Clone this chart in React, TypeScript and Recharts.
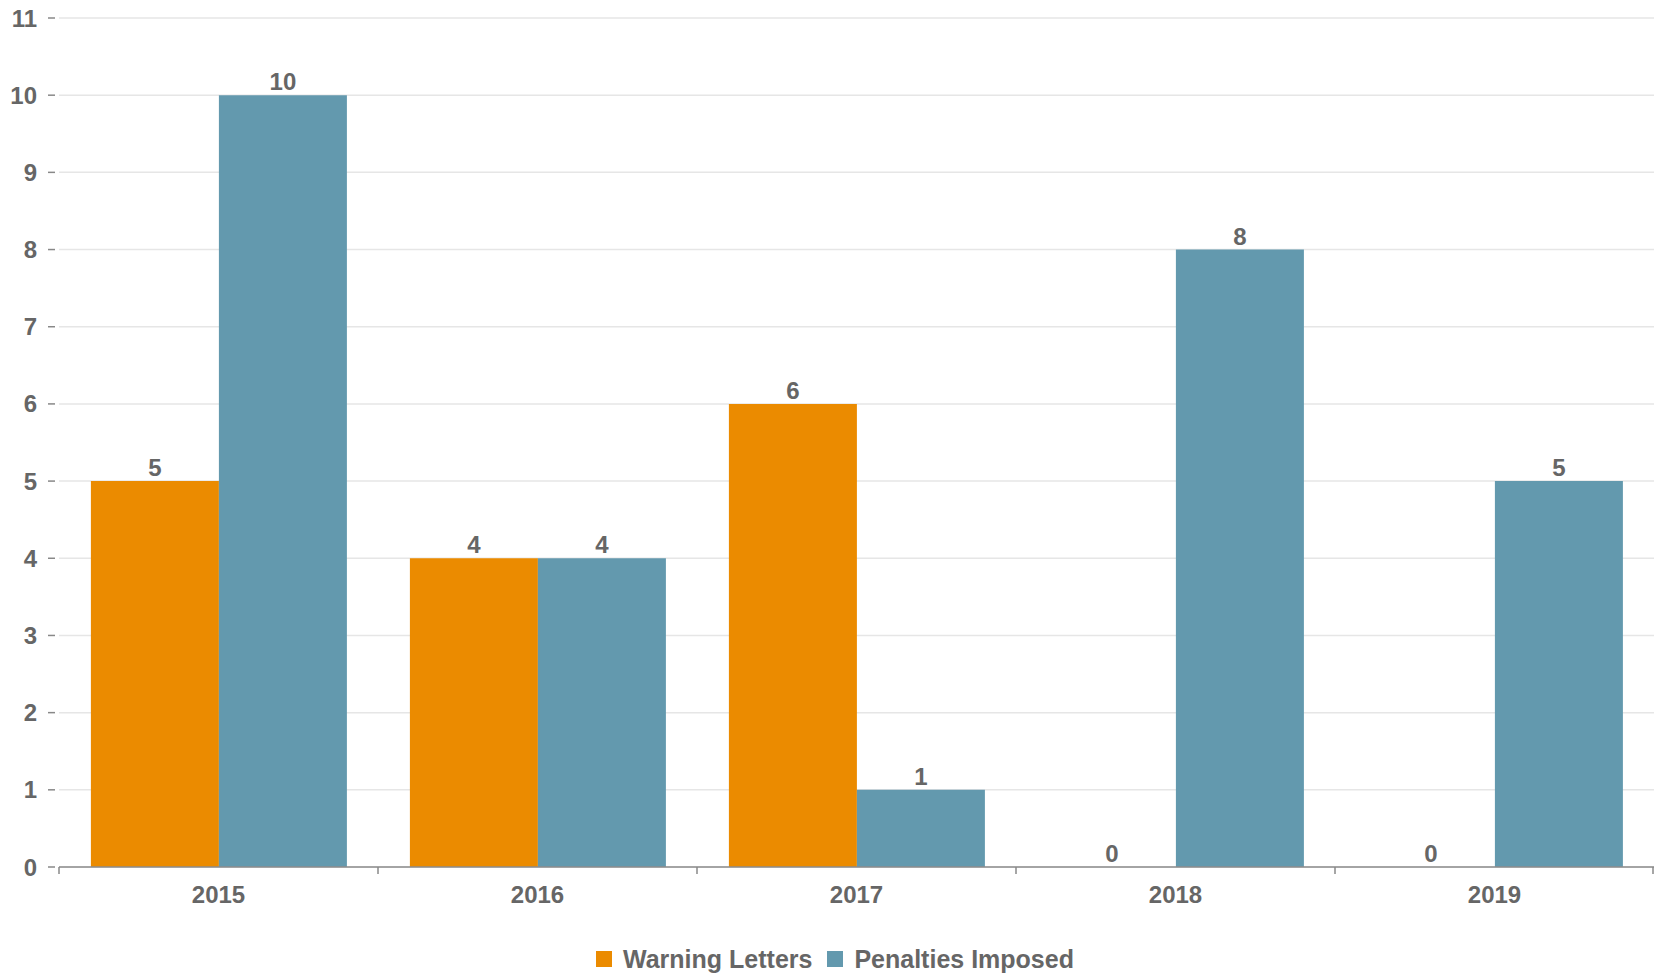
import React from "react";
import { Bar, BarChart, CartesianGrid, LabelList, Legend, XAxis, YAxis } from "recharts";

const years = ["2015", "2016", "2017", "2018", "2019"];
const warningLetters = [5, 4, 6, 0, 0];
const penaltiesImposed = [10, 4, 1, 8, 5];
const yTicks = [0, 1, 2, 3, 4, 5, 6, 7, 8, 9, 10, 11];

const ORANGE = "#eb8b00";
const BLUE = "#6399ae";
const TEXT = "#666666";
const FONT = "'Liberation Sans', Arial, sans-serif";
const NARROW = "'Liberation Sans Narrow', 'Arial Narrow', 'Liberation Sans', sans-serif";

const data = years.map((year, i) => ({
  year,
  warning: warningLetters[i],
  penalties: penaltiesImposed[i],
}));

// y ticks: short dash left of the plot, value further left
function YTick(props: any) {
  const { x, y, payload } = props;
  return (
    <g>
      <line x1={x - 11} x2={x - 4} y1={y} y2={y} stroke="#888" strokeWidth={1.5} />
      <text x={x - 22} y={y} textAnchor="end" dominantBaseline="central" fill={TEXT} fontSize={24} fontWeight="bold" fontFamily={FONT}>
        {payload.value}
      </text>
    </g>
  );
}

// x ticks: tick marks sit on the category boundaries, label in the middle
function XTick(props: any) {
  const { x, y, payload, index } = props;
  const half = payload.offset || 159.5;
  return (
    <g>
      <line x1={x - half} x2={x - half} y1={y} y2={y + 7} stroke="#888" strokeWidth={1.5} />
      {index === years.length - 1 && (
        <line x1={x + half - 1} x2={x + half - 1} y1={y} y2={y + 7} stroke="#888" strokeWidth={1.5} />
      )}
      <text x={x} y={y + 36} textAnchor="middle" fill={TEXT} fontSize={24} fontWeight="bold" fontFamily={FONT}>
        {payload.value}
      </text>
    </g>
  );
}

function LegendBox() {
  const items = [
    { label: "Warning Letters", color: ORANGE },
    { label: "Penalties Imposed", color: BLUE },
  ];
  return (
    <div style={{ height: 40, paddingTop: 12, paddingLeft: 16, boxSizing: "border-box", display: "flex", justifyContent: "center", fontFamily: FONT }}>
      {items.map((it, i) => (
        <div key={it.label} style={{ display: "flex", alignItems: "center", marginRight: i === 0 ? 15 : 0, lineHeight: "24px" }}>
          <span style={{ width: 16, height: 16, background: it.color, display: "inline-block", marginRight: 11 }} />
          <span style={{ fontSize: 25, fontWeight: "bold", color: TEXT }}>{it.label}</span>
        </div>
      ))}
    </div>
  );
}

// zero bars still need a rect so their "0" label gets drawn
const tinyForZero = (value: any) => (value === 0 ? 0.01 : 0);

export default function App() {
  return (
    <div style={{ position: "fixed", left: 0, top: 0, width: 1654, height: 973, background: "#fff" }}>
      <BarChart
        width={1654}
        height={973}
        data={data}
        margin={{ top: 18, right: 0, left: 0, bottom: 0 }}
        barCategoryGap="10%"
        barGap={0}
      >
        <CartesianGrid vertical={false} stroke="#e6e6e6" strokeWidth={1.5} />
        <YAxis
          width={59}
          domain={[0, 11]}
          ticks={yTicks}
          interval={0}
          axisLine={false}
          tickLine={false}
          tickSize={0}
          tickMargin={0}
          tick={<YTick />}
        />
        <XAxis
          dataKey="year"
          height={66}
          axisLine={{ stroke: "#8c8c8c", strokeWidth: 1.5 }}
          tickLine={false}
          tickSize={0}
          tickMargin={0}
          interval={0}
          tick={<XTick />}
        />
        <Legend verticalAlign="bottom" content={<LegendBox />} />
        <Bar dataKey="warning" name="Warning Letters" fill={ORANGE} minPointSize={tinyForZero} isAnimationActive={false}>
          <LabelList dataKey="warning" position="top" offset={5} fill={TEXT} fontSize={24} fontWeight="bold" fontFamily={NARROW} />
        </Bar>
        <Bar dataKey="penalties" name="Penalties Imposed" fill={BLUE} minPointSize={tinyForZero} isAnimationActive={false}>
          <LabelList dataKey="penalties" position="top" offset={5} fill={TEXT} fontSize={24} fontWeight="bold" fontFamily={NARROW} />
        </Bar>
      </BarChart>
    </div>
  );
}
